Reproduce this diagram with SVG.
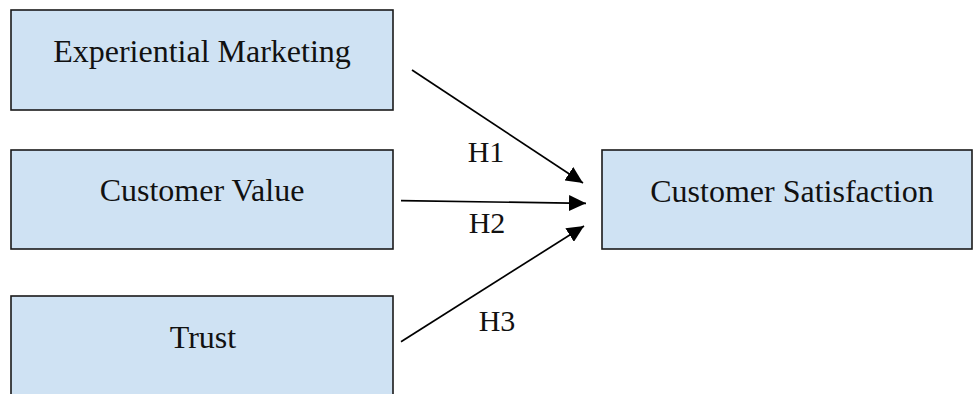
<svg xmlns="http://www.w3.org/2000/svg" width="973" height="394" viewBox="0 0 973 394">
  <style>
    .box { fill: #cfe2f3; stroke: #1a1a1a; stroke-width: 1.6; }
    .lbl { font-family: "Liberation Serif", "Times New Roman", serif; font-size: 32px; fill: #111; text-anchor: middle; }
    .hl { font-family: "Liberation Serif", "Times New Roman", serif; font-size: 30px; fill: #111; text-anchor: middle; }
    .edge { stroke: #000; stroke-width: 1.7; fill: none; marker-end: url(#arrow); }
  </style>
  <defs>
    <marker id="arrow" markerUnits="userSpaceOnUse" markerWidth="18" markerHeight="16" refX="17" refY="8" orient="auto">
      <path d="M0,0 L17,8 L0,16 z" fill="#000"/>
    </marker>
  </defs>
  <rect width="973" height="394" fill="#ffffff"/>
  <g id="node-experiential-marketing">
    <rect class="box" x="11" y="10" width="382" height="100"/>
    <text class="lbl" x="202" y="62">Experiential Marketing</text>
  </g>
  <g id="node-customer-value">
    <rect class="box" x="11" y="150" width="382" height="99"/>
    <text class="lbl" x="202" y="201">Customer Value</text>
  </g>
  <g id="node-trust">
    <rect class="box" x="11" y="296" width="382" height="110"/>
    <text class="lbl" x="203" y="348">Trust</text>
  </g>
  <g id="node-customer-satisfaction">
    <rect class="box" x="602" y="150" width="370" height="99"/>
    <text class="lbl" x="792" y="202">Customer Satisfaction</text>
  </g>
  <g id="connectors">
    <line class="edge" x1="412" y1="70" x2="583" y2="183"/>
    <line class="edge" x1="401" y1="200.7" x2="586" y2="203.3"/>
    <line class="edge" x1="401" y1="341.7" x2="584" y2="226"/>
    <text class="hl" x="486" y="162">H1</text>
    <text class="hl" x="487" y="233">H2</text>
    <text class="hl" x="497" y="331">H3</text>
  </g>
</svg>
